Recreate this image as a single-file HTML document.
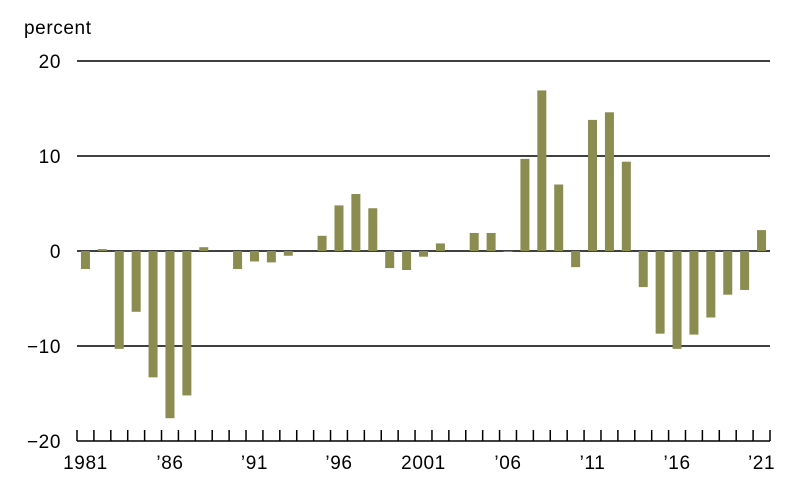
<!DOCTYPE html>
<html><head><meta charset="utf-8"><style>
body{margin:0;background:#fff}
svg{display:block;font-family:"Liberation Sans",sans-serif}
text{letter-spacing:0.6px}
</style></head><body>
<svg id="chart" width="800" height="500">
<text x="24" y="34" font-size="19" fill="#000">percent</text>
<g id="grid"></g><g id="bars"></g><g id="axis"></g>
</svg>
<script>
const years = [];
for (let y = 1981; y <= 2021; y++) years.push(y);
const values = [-1.9,0.2,-10.3,-6.4,-13.3,-17.6,-15.2,0.4,0,-1.9,-1.1,-1.2,-0.5,0,1.6,4.8,6.0,4.5,-1.8,-2.0,-0.6,0.8,0,1.9,1.9,-0.1,9.7,16.9,7.0,-1.7,13.8,14.6,9.4,-3.8,-8.7,-10.3,-8.8,-7.0,-4.6,-4.1,2.2];
const yTicks = [20,10,0,-10,-20];
const yTickLabels = ["20","10","0","\u221210","\u221220"];
const xLabelYears = [1981,1986,1991,1996,2001,2006,2011,2016,2021];
const xLabels = ["1981","\u201986","\u201991","\u201996","2001","\u201906","\u201911","\u201916","\u201921"];

const NS = "http://www.w3.org/2000/svg";
const x0 = 77, x1 = 770, step = (x1 - x0) / years.length;
const yScale = v => 251 - v * 9.5;
const xCenter = i => x0 + step * (i + 0.5);
function mk(tag, attrs, parent) {
  const e = document.createElementNS(NS, tag);
  for (const k in attrs) e.setAttribute(k, attrs[k]);
  parent.appendChild(e); return e;
}
const grid = document.getElementById('grid'), bars = document.getElementById('bars'), axis = document.getElementById('axis');
yTicks.forEach((t, i) => {
  const l = mk('line', {x1: x0, x2: x1, y1: yScale(t), y2: yScale(t), stroke: '#000', 'stroke-width': 1.5}, grid);
  
  
  const tx = mk('text', {x: 61, y: yScale(t) + 7, 'font-size': 19, 'text-anchor': 'end'}, grid);
  tx.textContent = yTickLabels[i];
  
  
});
values.forEach((v, i) => {
  const top = Math.min(yScale(v), yScale(0)), h = Math.abs(yScale(v) - yScale(0));
  const r = mk('rect', {x: xCenter(i) - 4.5, y: top, width: 9, height: Math.max(h, 0.01), fill: '#8b8c4f'}, bars);
  
  
});
for (let i = 0; i <= years.length; i++) {
  const t = mk('line', {x1: x0 + step * i, x2: x0 + step * i, y1: 430, y2: 441, stroke: '#000', 'stroke-width': 1.5}, axis);
  
  
}
xLabelYears.forEach((yr, j) => {
  const i = years.indexOf(yr);
  const tx = mk('text', {x: xCenter(i), y: 469, 'font-size': 19, 'text-anchor': 'middle'}, axis);
  tx.textContent = xLabels[j];
  
  
});
</script>
</body></html>
